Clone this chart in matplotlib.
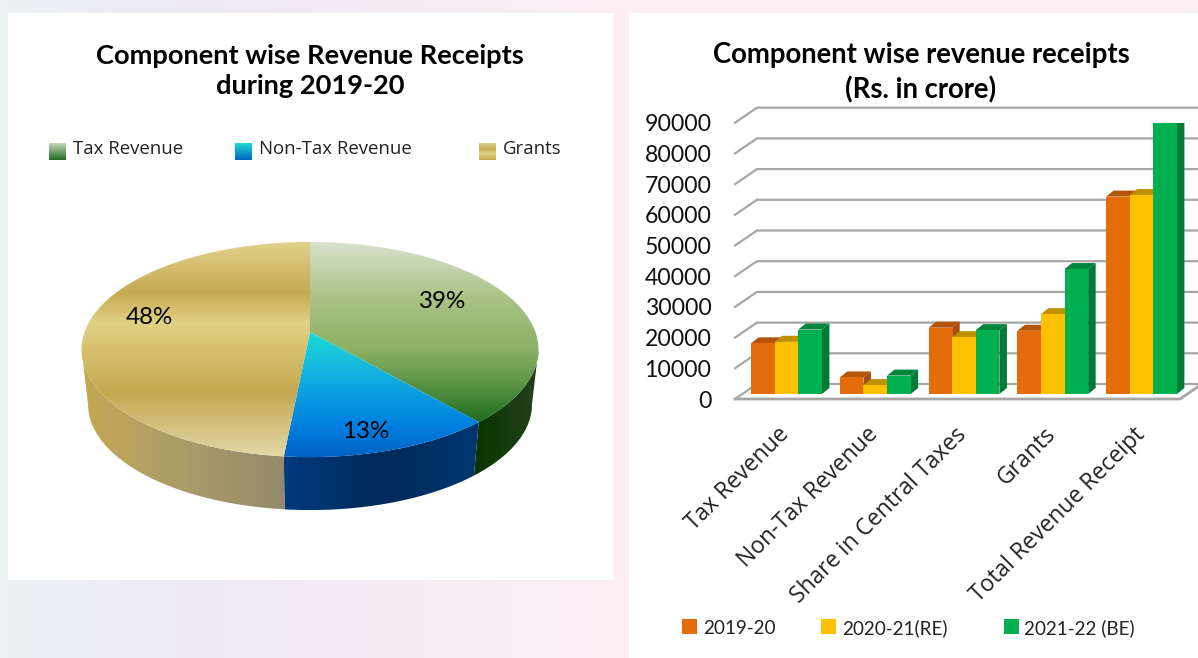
import numpy as np
import matplotlib
matplotlib.use('Agg')
import matplotlib.pyplot as plt
from matplotlib.colors import to_rgb
from matplotlib.patches import Polygon, Rectangle

# pie values (share of revenue receipts, %), labels show them rounded
pie_labels = ['Tax Revenue', 'Non-Tax Revenue', 'Grants']
pie_shares = [38.6, 12.95, 48.45]

# bar values, Rs. in crore
categories = ['Tax Revenue', 'Non-Tax Revenue', 'Share in Central Taxes', 'Grants', 'Total Revenue Receipt']
series_names = ['2019-20', '2020-21(RE)', '2021-22 (BE)']
values_1920 = [16500, 5400, 21600, 20600, 64300]
values_2021 = [17000, 2900, 18500, 26000, 64800]
values_2122 = [21000, 6000, 20800, 40700, 88600]
y_ticks = [0, 10000, 20000, 30000, 40000, 50000, 60000, 70000, 80000, 90000]

W, H = 1198, 658
plt.rcParams['font.family'] = ['Open Sans', 'DejaVu Sans']
fig = plt.figure(figsize=(W / 100, H / 100), dpi=100)

# page layer works in pixels, y down
bg = fig.add_axes([0, 0, 1, 1])
bg.set_xlim(0, W)
bg.set_ylim(H, 0)
bg.axis('off')


def gradient(stops, extent, clip=None, vertical=True, z=2):
    """stops are (pixel position, colour) along the gradient direction"""
    lo, hi = (extent[2], extent[3]) if vertical else (extent[0], extent[1])
    where = np.linspace(lo, hi, 300)
    pos = [p for p, c in stops]
    rgb = np.array([to_rgb(c) for p, c in stops])
    ramp = np.column_stack([np.interp(where, pos, rgb[:, k]) for k in range(3)])
    ramp = ramp[:, None, :] if vertical else ramp[None, :, :]
    im = bg.imshow(ramp, aspect='auto', zorder=z, origin='upper',
                   extent=(extent[0], extent[1], extent[3], extent[2]))
    if clip is not None:
        patch = Polygon(clip, closed=True, transform=bg.transData, facecolor='none', edgecolor='none')
        bg.add_patch(patch)
        im.set_clip_path(patch)
    return im


# page background and white panels
gradient([(0, '#ecf1f4'), (200, '#eeeaf3'), (620, '#fdeef3'), (1198, '#fdf0f4')], (0, W, 0, H), vertical=False, z=0)
bg.add_patch(Rectangle((8, 13), 605, 567, facecolor='white', edgecolor='none', zorder=1))
bg.add_patch(Rectangle((629, 13), 569, 645, facecolor='white', edgecolor='none', zorder=1))

# pie, circle pushed through a small perspective so the front looks bigger
cx, top_cy, bot_cy = 310, 332, 387
persp = 0.163
rx_top, ry_top = 225.4, 104.7
rx_bot, ry_bot = 219.0, 103.0


def rim(theta, cy, rx, ry):
    X, Y = np.sin(theta), -np.cos(theta)
    d = 1 - persp * Y
    return np.column_stack([cx + rx * X / d, cy + ry * Y / d])


edges = np.radians(np.cumsum([0] + pie_shares) * 3.6)
top_styles = [
    [(242, '#d8e3cc'), (300, '#a8c184'), (350, '#8cb065'), (395, '#4a8a3a'), (425, '#17691a')],
    [(332, '#1fdcd8'), (385, '#0fa6e2'), (425, '#0080e0'), (458, '#0062c4')],
    [(242, '#e0d28c'), (293, '#c6a952'), (322, '#e1d184'), (393, '#c5a850'), (458, '#e4d9aa')],
]
side_styles = [
    [(470, '#0b3300'), (500, '#123a08'), (540, '#263f20')],
    [(280, '#003a80'), (380, '#002a58'), (480, '#003672')],
    [(80, '#c4a84e'), (110, '#bda65a'), (180, '#aa9c6a'), (285, '#948a6c')],
]
# side walls first, only the part that faces front (silhouette is where the rim is widest)
sil = np.arccos(-persp)
for i in range(3):
    a, b = edges[i], edges[i + 1]
    a2, b2 = max(a, sil), min(b, 2 * np.pi - sil)
    t = np.linspace(a2, b2, 80)
    wall = np.vstack([rim(t, top_cy, rx_top, ry_top), rim(t[::-1], bot_cy, rx_bot, ry_bot)])
    gradient(side_styles[i], (wall[:, 0].min(), wall[:, 0].max(), 240, 520), clip=wall, vertical=False, z=3)
for i in range(3):
    t = np.linspace(edges[i], edges[i + 1], 160)
    wedge = np.vstack([[(cx, top_cy)], rim(t, top_cy, rx_top, ry_top)])
    gradient(top_styles[i], (60, 560, 240, 460), clip=wedge, z=4)
bg.set_xlim(0, W)
bg.set_ylim(H, 0)

# pie labels sit on the wedges
pie_text_pos = [(443, 302), (366, 431), (149, 318)]
for s, (x, y) in zip(pie_shares, pie_text_pos):
    bg.text(x, y, '%d%%' % round(s), ha='center', va='center', fontsize=17.4, family='Lato', color='black', zorder=6)

bg.text(310, 70.5, 'Component wise Revenue Receipts\nduring 2019-20', ha='center', va='center', family='Lato',
        fontsize=19.6, fontweight='bold', color='black', linespacing=1.3, zorder=6)

# pie legend, gradient swatches
swatch_stops = [[(0, '#c9d8b6'), (1, '#1f6b1f')], [(0, '#1fdcd8'), (1, '#0062c4')],
                [(0, '#e0d28c'), (0.35, '#c6a952'), (0.6, '#e1d184'), (1, '#c5a850')]]
swatch_x = [49, 235, 479]
text_x = [73, 259, 503]
for i, name in enumerate(pie_labels):
    y0, y1 = 143, 160
    gradient([(y0 + p * (y1 - y0), c) for p, c in swatch_stops[i]], (swatch_x[i], swatch_x[i] + 17, y0, y1), z=5)
    bg.text(text_x[i], 149, name, ha='left', va='center', fontsize=13.4, color='#222222', zorder=6)
bg.set_xlim(0, W)
bg.set_ylim(H, 0)

# bar chart: axes runs from the front floor line (399 px) with 90000 at 122.7 px
left, right, low, high = 735, W, 399.0, 122.7
ax = fig.add_axes([left / W, 1 - low / H, (right - left) / W, (low - high) / H])
ax.patch.set_alpha(0)
px_y = 90000 / (low - high)  # value units per pixel
period = 88.75
for s in ax.spines.values():
    s.set_visible(False)
x_left = (left - 786.5) / period
x_end = (right - 786.5) / period

# depth of the floor and depth of a bar, x in category units and y in value units
wall_dx, wall_dy = 22 / period, 15 * px_y
bar_dx, bar_dy = 7.5 / period, 6 * px_y
bar_base = 5 * px_y
bar_w = 23.6 / period
x_right = x_left + 445 / period

grid_col = '#a6a6a6'
for v in y_ticks:
    ax.plot([x_left, x_left + wall_dx, x_end], [v, v + wall_dy, v + wall_dy], color=grid_col, lw=1.6,
            clip_on=False, zorder=1, solid_joinstyle='miter')
ax.plot([x_left, x_right, x_right + wall_dx], [0, 0, wall_dy], color=grid_col, lw=2, zorder=1, clip_on=False)

front_cols = ['#e46c0a', '#ffc000', '#00b050']
top_cols = ['#b35409', '#bf9000', '#00853c']
side_cols = ['#a84e08', '#b88a00', '#007a35']
all_values = [values_1920, values_2021, values_2122]
x_pos = np.arange(len(categories))
for i, vals in enumerate(all_values):
    xs = x_pos + (i - 1) * bar_w
    ax.bar(xs, vals, bar_w, bottom=bar_base, color=front_cols[i], zorder=3 + i * 2, label=series_names[i])
    for x, v in zip(xs, vals):
        l, r, t = x - bar_w / 2, x + bar_w / 2, bar_base + v
        ax.fill([l, r, r + bar_dx, l + bar_dx], [t, t, t + bar_dy, t + bar_dy], color=top_cols[i], lw=0, zorder=2 + i * 2)
        ax.fill([r, r + bar_dx, r + bar_dx, r], [bar_base, bar_base + bar_dy, t + bar_dy, t], color=side_cols[i], lw=0,
                zorder=2 + i * 2)
ax.set_xlim(x_left, x_end)
ax.set_ylim(0, 90000)

ax.set_yticks(y_ticks)
ax.set_yticklabels([str(v) for v in y_ticks], fontsize=16.6, family='Lato', color='#111111')
ax.tick_params(axis='y', length=0, pad=17)
# labels end a little left of the group centre
ax.set_xticks(x_pos - 9 / period)
ax.set_xticklabels(categories, rotation=45, ha='right', rotation_mode='anchor', fontsize=16.5, family='Open Sans',
                   color='#222222')
ax.tick_params(axis='x', length=0, pad=17)

bg.text(921, 72.5, 'Component wise revenue receipts\n(Rs. in crore)', ha='center', va='center', family='Lato',
        fontsize=19.8, fontweight='bold', color='black', linespacing=1.38, zorder=6)

# bottom legend
leg_box_x = [682, 821, 1004]
leg_text_x = [703, 842, 1024]
for i, name in enumerate(series_names):
    bg.add_patch(Rectangle((leg_box_x[i], 619), 15, 15, facecolor=front_cols[i], edgecolor='none', zorder=5))
    bg.text(leg_text_x[i], 628, name, ha='left', va='center', fontsize=13.6, family='Lato', color='#222222', zorder=6)

fig.savefig('out.png', dpi=100)
